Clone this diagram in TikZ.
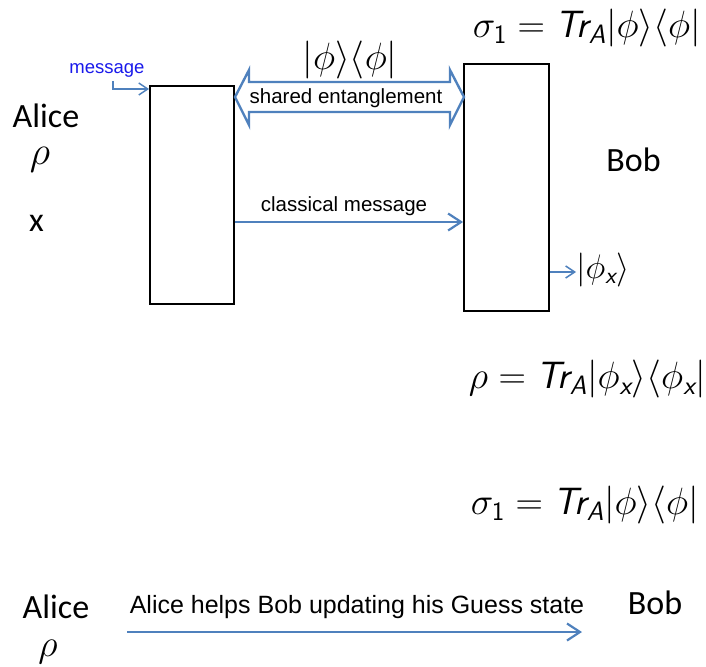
\RequirePackage{fix-cm}
\documentclass[tikz,border=0pt]{standalone}
\usepackage{amsmath}
\usepackage{fontspec}
\setmainfont{Liberation Sans}
\newfontfamily\calfont{Carlito}
\usetikzlibrary{arrows.meta}
\definecolor{arrowblue}{RGB}{79,129,189}
\definecolor{msgblue}{RGB}{25,25,235}
\newcommand{\ssl}[1]{\text{\sffamily\itshape #1}}
\newcommand{\fs}[1]{\fontsize{#1}{#1}\selectfont}
\begin{document}
\begin{tikzpicture}[x=1pt,y=-1pt,
  box/.style={draw=black,line width=1.8pt,minimum width=#1,inner sep=0pt},
  link/.style={draw=arrowblue,line width=2.8pt,-{Straight Barb[length=13pt,width=17pt,line width=2.2pt]}},
  thinlink/.style={draw=arrowblue,line width=1.5pt,-{Straight Barb[length=9pt,width=12pt,line width=1.5pt]}},
  lbl/.style={inner sep=0pt,font=\fs{#1}},
  party/.style={inner sep=0pt,font=\calfont\fs{#1}},
  eq/.style={inner sep=0pt,font=\fs{#1}}]
\useasboundingbox (0,0) rectangle (706,666);

% the two boxes
\node[box=84pt,minimum height=218pt] (A) at (192,195) {};
\node[box=85pt,minimum height=247pt] (B) at (506.5,187.5) {};

% shared entanglement double arrow
\draw[arrowblue,line width=2.4pt,fill=white,line join=miter]
  (235,97) -- (249,70) -- (249,82) -- (450,82) -- (450,70) -- (464,97)
  -- (450,125) -- (450,112) -- (249,112) -- (249,125) -- cycle;
\node[lbl=20.5] (se) at (346,98) {shared entanglement};
\node[eq=38] (pp) at (350,60) {$|\phi\rangle\langle\phi|$};

% classical message
\draw[link] (A.east |- {(0,222)}) -- (B.west |- {(0,222)});
\node[lbl=20.5] (cm) at (344,206) {classical message};

% incoming message
\node[lbl=18.5,text=msgblue] (msg) at (107,70) {message};
\coordinate (m0) at (113,81);
\draw[thinlink] (m0) |- (A.west |- {(0,89)});

% output state
\node[eq=34,anchor=west] (phix) at (576,270) {$|\phi_{\ssl{x}}\rangle$};
\draw[thinlink] (B.east |- {(0,272)}) -- (phix.west |- {(0,272)});

% parties
\node[party=34] (alice) at (46,116) {Alice};
\node[eq=40] (rho) at (40,160) {$\rho$};
\node[party=34] (x) at (36.5,223) {x};
\node[party=34] (bob) at (633.5,160) {Bob};

% equations
\node[eq=38,anchor=east] (s1) at (701,28) {$\sigma_{\textsf{1}} = \ssl{Tr}_{\ssl{A}}|\phi\rangle\langle\phi|$};
\node[eq=38,anchor=east] (rx) at (706,379) {$\rho = \ssl{Tr}_{\ssl{A}}|\phi_{\ssl{x}}\rangle\langle\phi_{\ssl{x}}|$};
\node[eq=38,anchor=east] (s2) at (699,505) {$\sigma_{\textsf{1}} = \ssl{Tr}_{\ssl{A}}|\phi\rangle\langle\phi|$};

% bottom summary
\node[party=34] (alice2) at (56,607) {Alice};
\node[eq=38] (rho2) at (48,652) {$\rho$};
\node[party=34] (bob2) at (655,603) {Bob};
\node[lbl=25] (help) at (357,607) {Alice helps Bob updating his Guess state};
\coordinate (h0) at (127,632);
\coordinate (h1) at (582,632);
\draw[link] (h0) -- (h1);
\end{tikzpicture}
\end{document}
